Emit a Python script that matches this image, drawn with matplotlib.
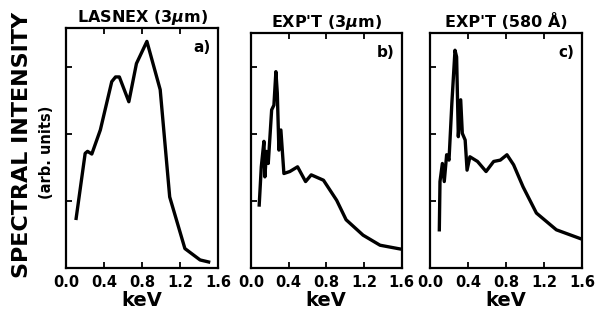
import numpy as np
import matplotlib.pyplot as plt

plt.rcParams['font.family'] = ['DejaVu Sans']
plt.rcParams['font.weight'] = 'bold'
plt.rcParams['mathtext.fontset'] = 'dejavusans'

# panel a) LASNEX (3 um)
a_kev = [0.105, 0.20, 0.225, 0.27, 0.36, 0.48, 0.52, 0.56, 0.66, 0.74, 0.85,
         0.99, 1.09, 1.25, 1.41, 1.50]
a_int = [0.74, 1.71, 1.74, 1.70, 2.06, 2.78, 2.85, 2.85, 2.48, 3.05, 3.38,
         2.66, 1.06, 0.29, 0.12, 0.09]

# panel b) EXP'T (3 um)
b_kev = [0.088, 0.11, 0.138, 0.148, 0.166, 0.184, 0.22, 0.244, 0.265, 0.28,
         0.297, 0.318, 0.35, 0.413, 0.495, 0.58, 0.64, 0.77, 0.91, 1.01,
         1.19, 1.37, 1.56, 1.6]
b_int = [0.94, 1.51, 1.89, 1.36, 1.74, 1.56, 2.36, 2.43, 2.93, 2.61,
         1.76, 2.06, 1.41, 1.44, 1.51, 1.29, 1.39, 1.31, 1.01, 0.72,
         0.49, 0.34, 0.29, 0.28]

# panel c) EXP'T (580 A)
c_kev = [0.098, 0.105, 0.13, 0.15, 0.175, 0.20, 0.23, 0.263, 0.28, 0.298,
         0.323, 0.34, 0.37, 0.39, 0.42, 0.50, 0.59, 0.67, 0.74, 0.81, 0.88,
         0.98, 1.12, 1.33, 1.58, 1.6]
c_int = [0.57, 1.29, 1.56, 1.29, 1.69, 1.61, 2.46, 3.25, 3.15, 1.96,
         2.51, 2.01, 1.91, 1.46, 1.66, 1.59, 1.44, 1.59, 1.61, 1.69, 1.54,
         1.21, 0.82, 0.57, 0.44, 0.43]

titles = ["LASNEX (3$\\mathit{\\mu}$m)", "EXP'T (3$\\mathit{\\mu}$m)", "EXP'T (580 Å)"]
tags = ["a)", "b)", "c)"]
xticks = [0.0, 0.4, 0.8, 1.2, 1.6]

fig = plt.figure(figsize=(5.96, 3.2), dpi=100)
boxes = [[0.111, 0.1625, 0.255, 0.75],
         [0.421, 0.1625, 0.253, 0.735],
         [0.7215, 0.1625, 0.255, 0.735]]
tops = [3.58, 3.51, 3.51]
data = [(a_kev, a_int), (b_kev, b_int), (c_kev, c_int)]

for i, (box, (xs, ys)) in enumerate(zip(boxes, data)):
    ax = fig.add_axes(box)
    ax.plot(xs, ys, color='black', lw=2.4, solid_joinstyle='round')
    ax.set_xlim(0, 1.6)
    ax.set_ylim(0, tops[i])
    ax.set_xticks(xticks)
    ax.set_xticklabels(['%.1f' % t for t in xticks], fontsize=10.5, fontweight='bold')
    ax.set_yticks([1, 2, 3])
    ax.set_yticklabels([])
    ax.tick_params(axis='x', direction='in', top=True, length=4, width=1.3, pad=5)
    ax.tick_params(axis='y', direction='in', length=4, width=1.3)
    for s in ax.spines.values():
        s.set_linewidth(1.6)
    ax.set_title(titles[i], fontsize=11.5, fontweight='bold', pad=4)
    ax.set_xlabel('keV', fontsize=14, fontweight='bold', labelpad=1)
    ax.text(0.95, 0.95, tags[i], transform=ax.transAxes, ha='right', va='top',
            fontsize=11, fontweight='bold')

fig.text(0.037, 0.547, 'SPECTRAL INTENSITY', rotation=90, ha='center', va='center',
         fontsize=16, fontweight='bold')
fig.text(0.078, 0.525, '(arb. units)', rotation=90, ha='center', va='center',
         fontsize=10.5, fontweight='bold')

fig.savefig('out.png', dpi=100)
